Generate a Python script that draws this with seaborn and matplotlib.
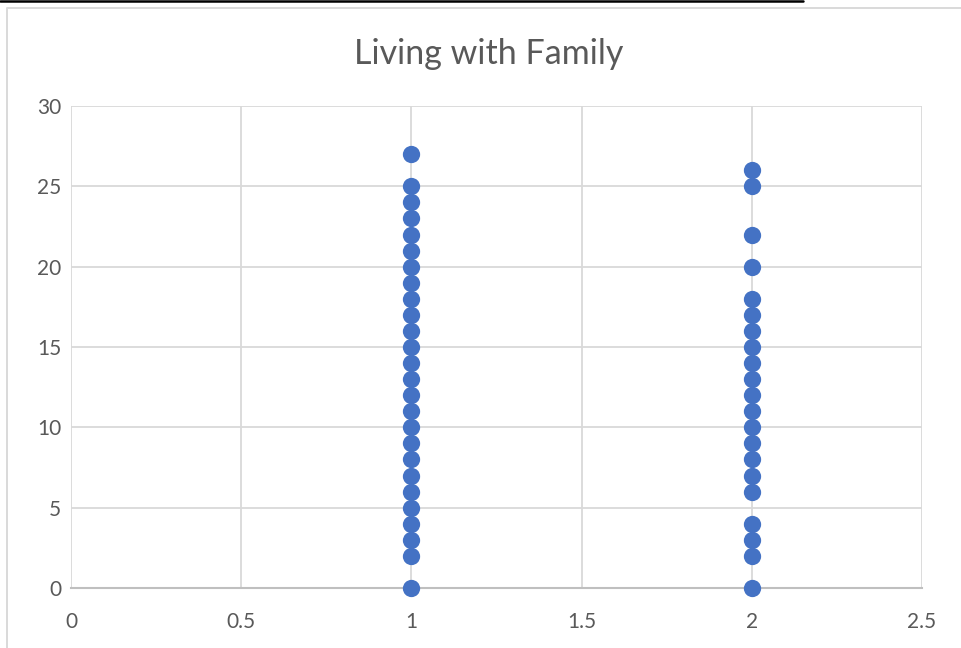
import matplotlib
matplotlib.use("Agg")
import matplotlib.pyplot as plt
from matplotlib.lines import Line2D
import pandas as pd
import seaborn as sns

# Survey responses: group code (x) and count value (y)
group_one_values = [0, 2, 3, 4, 5, 6, 7, 8, 9, 10, 11, 12, 13, 14, 15, 16,
                    17, 18, 19, 20, 21, 22, 23, 24, 25, 27]
group_two_values = [0, 2, 3, 4, 6, 7, 8, 9, 10, 11, 12, 13, 14, 15, 16, 17,
                    18, 20, 22, 25, 26]
group_codes = [1, 2]
x_ticks = [0, 0.5, 1, 1.5, 2, 2.5]
x_tick_labels = ["0", "0.5", "1", "1.5", "2", "2.5"]
y_ticks = [0, 5, 10, 15, 20, 25, 30]
title_text = "Living with Family"

df = pd.DataFrame({
    "group": [group_codes[0]] * len(group_one_values) + [group_codes[1]] * len(group_two_values),
    "value": group_one_values + group_two_values,
})

sns.set_theme(style="white")
plt.rcParams["font.family"] = ["Lato", "DejaVu Sans"]

text_grey = "#595959"
grid_grey = "#d9d9d9"

fig = plt.figure(figsize=(9.61, 6.48), dpi=100)
ax = fig.add_axes([71 / 961, 1 - 588 / 648, (922 - 71) / 961, (588 - 106) / 648])

sns.scatterplot(data=df, x="group", y="value", ax=ax, color="#4472C4",
                s=155, linewidth=0, zorder=3, legend=False, clip_on=False)

ax.set_xlim(0, 2.5)
ax.set_ylim(0, 30)
ax.set_xticks(x_ticks)
ax.set_xticklabels(x_tick_labels)
ax.set_yticks(y_ticks)
ax.set_xlabel("")
ax.set_ylabel("")

ax.grid(True, color=grid_grey, linewidth=1.3, zorder=0)
ax.set_axisbelow(True)
for side in ["top", "right", "left"]:
    ax.spines[side].set_visible(False)
ax.spines["bottom"].set_color("#bfbfbf")
ax.spines["bottom"].set_linewidth(1.5)
ax.spines["bottom"].set_zorder(1)

ax.tick_params(axis="x", length=0, pad=17, labelsize=15, labelcolor=text_grey)
ax.tick_params(axis="y", length=0, pad=7, labelsize=15, labelcolor=text_grey)

fig.text(488.5 / 961, 1 - 54 / 648, title_text, ha="center", va="center",
         fontsize=24.5, color=text_grey)

# Outer chart frame and the top rule
fig.add_artist(Line2D([7 / 961, 7 / 961, 1.0], [0.0, 1 - 7.5 / 648, 1 - 7.5 / 648],
                      transform=fig.transFigure, color=grid_grey, linewidth=1.4))
fig.add_artist(Line2D([0.0, 803 / 961], [1 - 1.2 / 648, 1 - 1.2 / 648],
                      transform=fig.transFigure, color="black", linewidth=1.8))

fig.savefig("out.png", dpi=100, facecolor="white")
